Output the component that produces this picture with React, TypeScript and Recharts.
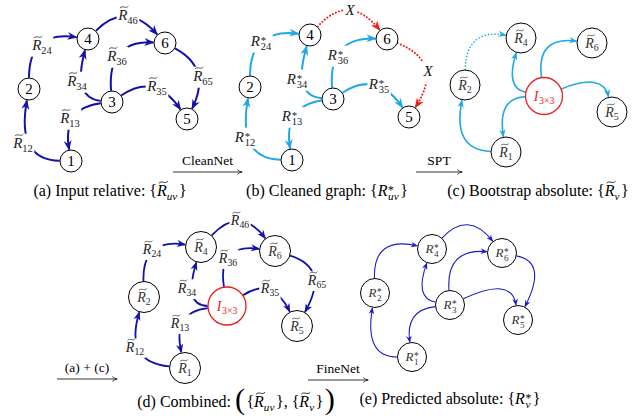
import React from 'react'
import { ComposedChart, Line, Scatter, XAxis, YAxis } from 'recharts'

const W = 644
const H = 419

const BLUE = '#1212aa'
const CYAN = '#1fa8e4'
const RED = '#ec1c1c'
const BLUE_E = '#1c1cc4'
const FONT = 'Liberation Serif'
const SERIF = `"${FONT}", "DejaVu Serif", serif`

// (a) input relative graph
const nodesA = [
  { id: '1', x: 71, y: 161 },
  { id: '2', x: 29, y: 89 },
  { id: '3', x: 112, y: 102 },
  { id: '4', x: 88, y: 39 },
  { id: '5', x: 187, y: 119 },
  { id: '6', x: 165, y: 43 },
]
const edgesA = [
  { from: '1', to: '2', cx: 16, cy: 160, sub: '12', lx: 23, ly: 143 },
  { from: '2', to: '4', cx: 29, cy: 30, sub: '24', lx: 42, ly: 45 },
  { from: '4', to: '6', cx: 126, cy: 0, sub: '46', lx: 128, ly: 15 },
  { from: '3', to: '6', cx: 107, cy: 40, sub: '36', lx: 117, ly: 56 },
  { from: '3', to: '4', cx: 72, cy: 98, sub: '34', lx: 77, ly: 81 },
  { from: '3', to: '1', cx: 62, cy: 108, sub: '13', lx: 70, ly: 118 },
  { from: '3', to: '5', cx: 155, cy: 72, sub: '35', lx: 157, ly: 86 },
  { from: '6', to: '5', cx: 212, cy: 68, sub: '65', lx: 203, ly: 76 },
]

// (b) cleaned graph
const nodesB = [
  { id: '1', x: 292, y: 160 },
  { id: '2', x: 250, y: 87 },
  { id: '3', x: 333, y: 99 },
  { id: '4', x: 310, y: 35 },
  { id: '5', x: 409, y: 117 },
  { id: '6', x: 387, y: 39 },
]
const edgesB = [
  { from: '1', to: '2', cx: 237, cy: 159, sub: '12', lx: 245, ly: 137 },
  { from: '2', to: '4', cx: 250, cy: 28, sub: '24', lx: 261, ly: 41 },
  { from: '3', to: '6', cx: 328, cy: 37, sub: '36', lx: 338, ly: 55 },
  { from: '3', to: '4', cx: 292, cy: 96, sub: '34', lx: 297, ly: 79 },
  { from: '3', to: '1', cx: 283, cy: 106, sub: '13', lx: 292, ly: 116 },
  { from: '3', to: '5', cx: 377, cy: 70, sub: '35', lx: 379, ly: 84 },
  { from: '4', to: '6', cx: 349, cy: -8, sub: 'X', lx: 350, ly: 10, kind: 'cut' },
  { from: '6', to: '5', cx: 445, cy: 62, sub: 'X', lx: 428, ly: 71, kind: 'cut' },
]

// (c) bootstrap absolute (spanning tree)
const nodesC = [
  { id: '4', x: 521, y: 38 },
  { id: '6', x: 592, y: 43 },
  { id: '2', x: 465, y: 85 },
  { id: 'I', x: 544, y: 96 },
  { id: '5', x: 612, y: 112 },
  { id: '1', x: 506, y: 152 },
]
const edgesC = [
  { from: '2', to: '4', cx: 466, cy: 28, kind: 'skip' },
  { from: 'I', to: '4', cx: 505, cy: 88 },
  { from: 'I', to: '6', cx: 536, cy: 36 },
  { from: 'I', to: '5', cx: 603, cy: 72 },
  { from: 'I', to: '1', cx: 497, cy: 98 },
  { from: '1', to: '2', cx: 452, cy: 150 },
]

// (d) combined
const nodesD = [
  { id: '4', x: 201, y: 247 },
  { id: '6', x: 275, y: 251 },
  { id: '2', x: 144, y: 297 },
  { id: 'I', x: 227, y: 306 },
  { id: '5', x: 297, y: 326 },
  { id: '1', x: 185, y: 368 },
]
const edgesD = [
  { from: '4', to: '6', cx: 240, cy: 205, sub: '46', lx: 240, ly: 220 },
  { from: '2', to: '4', cx: 142, cy: 238, sub: '24', lx: 152, ly: 249 },
  { from: 'I', to: '6', cx: 217, cy: 243, sub: '36', lx: 228, ly: 258 },
  { from: 'I', to: '4', cx: 183, cy: 306, sub: '34', lx: 187, ly: 288 },
  { from: 'I', to: '5', cx: 272, cy: 276, sub: '35', lx: 270, ly: 288 },
  { from: '6', to: '5', cx: 330, cy: 268, sub: '65', lx: 317, ly: 280 },
  { from: 'I', to: '1', cx: 172, cy: 312, sub: '13', lx: 180, ly: 323 },
  { from: '1', to: '2', cx: 124, cy: 362, sub: '12', lx: 135, ly: 347 },
]

// (e) predicted absolute
const nodesE = [
  { id: '4', x: 432, y: 249 },
  { id: '6', x: 502, y: 253 },
  { id: '2', x: 375, y: 293 },
  { id: '3', x: 450, y: 305 },
  { id: '5', x: 518, y: 320 },
  { id: '1', x: 412, y: 357 },
]
const edgesE = [
  { from: '2', to: '4', cx: 373, cy: 236 },
  { from: '4', to: '6', cx: 468, cy: 210 },
  { from: '3', to: '6', cx: 446, cy: 248 },
  { from: '3', to: '4', cx: 414, cy: 298 },
  { from: '3', to: '5', cx: 512, cy: 276 },
  { from: '6', to: '5', cx: 548, cy: 262 },
  { from: '3', to: '1', cx: 405, cy: 310 },
  { from: '1', to: '2', cx: 364, cy: 357 },
]

// arrows between panels
const stepArrows = [
  { label: 'CleanNet', x1: 173, x2: 242, y: 172 },
  { label: 'SPT', x1: 416, x2: 462, y: 172 },
  { label: '(a) + (c)', x1: 57, x2: 117, y: 379 },
  { label: 'FineNet', x1: 308, x2: 368, y: 380 },
]

type Piece = { s: string; it?: boolean; k?: number; dy?: number; tilde?: boolean; stack?: boolean; gap?: number }

const Rt = (sub: string, it = false): Piece[] => [
  { s: 'R', it: true, tilde: true },
  { s: sub, it, k: 0.7, dy: 0.26 },
]
const Rs = (sub: string, it = false): Piece[] => [
  { s: 'R', it: true },
  { s: '*', k: 0.72, dy: -0.12, gap: 0.04 },
  { s: sub, it, k: 0.7, dy: 0.28, stack: true },
]

const captions: { x: number; y: number; pieces: Piece[] }[] = [
  { x: 110, y: 196, pieces: [{ s: '(a) Input relative: {' }, ...Rt('uv', true), { s: '}', gap: 0.1 }] },
  { x: 327, y: 196, pieces: [{ s: '(b) Cleaned graph: {' }, ...Rs('uv', true), { s: '}', gap: 0.1 }] },
  { x: 538, y: 196, pieces: [{ s: '(c) Bootstrap absolute: {' }, ...Rt('v', true), { s: '}', gap: 0.1 }] },
  {
    x: 236,
    y: 407,
    pieces: [
      { s: '(d) Combined: ' },
      { s: '(', k: 1.9, dy: 0.15 },
      { s: '{', gap: 0.08 },
      ...Rt('uv', true),
      { s: '}, {', gap: 0.1 },
      ...Rt('v', true),
      { s: '}', gap: 0.1 },
      { s: ')', k: 1.9, dy: 0.15, gap: 0.08 },
    ],
  },
  { x: 450, y: 404, pieces: [{ s: '(e) Predicted absolute: {' }, ...Rs('v', true), { s: '}', gap: 0.1 }] },
]

let mctx: CanvasRenderingContext2D | null = null
function tw(s: string, fs: number, it?: boolean) {
  if (!mctx && typeof document !== 'undefined') mctx = document.createElement('canvas').getContext('2d')
  if (!mctx) return s.length * fs * 0.5
  mctx.font = `${it ? 'italic ' : ''}${fs}px ${SERIF}`
  return mctx.measureText(s).width
}

function layout(pieces: Piece[], size: number) {
  let cur = 0
  let prevX = 0
  const items = pieces.map((p) => {
    const fs = size * (p.k ?? 1)
    const w = tw(p.s, fs, p.it)
    let px: number
    if (p.stack) {
      px = prevX
      cur = Math.max(cur, px + w)
    } else {
      px = cur + (p.gap ?? 0) * size
      cur = px + w
    }
    prevX = px
    return { ...p, px, fs, w }
  })
  return { items, width: cur }
}

// one <text> with positioned tspans, plus a drawn wide tilde where needed
function MathText({ x, y, pieces, size, color = '#000', anchor = 'middle', bg = false }: any) {
  const { items, width } = layout(pieces, size)
  const x0 = anchor === 'middle' ? x - width / 2 : anchor === 'end' ? x - width : x
  return (
    <g>
      {bg && <rect x={x0 - 1.5} y={y - size * 0.95} width={width + 3} height={size * 1.4} fill="#fff" />}
      <text fontFamily={SERIF} fill={color} style={{ whiteSpace: 'pre', fontFamily: SERIF }}>
        {items.map((p: any, i: number) => (
          <tspan key={i} x={x0 + p.px} y={y + (p.dy ?? 0) * size} fontSize={p.fs} fontStyle={p.it ? 'italic' : 'normal'}>
            {p.s}
          </tspan>
        ))}
      </text>
      {items
        .filter((p: any) => p.tilde)
        .map((p: any, i: number) => {
          const tx = x0 + p.px + 0.12 * p.fs
          const ty = y - 0.86 * p.fs
          const w = p.w * 0.92
          const h = 0.07 * p.fs
          return (
            <path
              key={`t${i}`}
              d={`M${tx},${ty + h} C${tx + w * 0.3},${ty - h * 2.2} ${tx + w * 0.7},${ty + h * 2.2} ${tx + w},${ty - h}`}
              stroke={color}
              strokeWidth={Math.max(0.6, p.fs * 0.05)}
              fill="none"
            />
          )
        })}
    </g>
  )
}

// quadratic bezier through start, control, end
const quad = (ctx: any) => {
  let pts: number[][] = []
  return {
    areaStart() {},
    areaEnd() {},
    lineStart() {
      pts = []
    },
    point(x: number, y: number) {
      pts.push([x, y])
    },
    lineEnd() {
      if (!pts.length) return
      ctx.moveTo(pts[0][0], pts[0][1])
      if (pts.length === 3) ctx.quadraticCurveTo(pts[1][0], pts[1][1], pts[2][0], pts[2][1])
      else pts.slice(1).forEach((p) => ctx.lineTo(p[0], p[1]))
    },
  }
}

type Cfg = {
  key: string
  nodes: { id: string; x: number; y: number }[]
  edges: any[]
  r: number
  rI: number
  node: 'num' | 'tilde' | 'star'
  label: 'tilde' | 'star' | null
  color: string
  width: number
  head: string
  nodeSize: number
  labelSize: number
}

const panels: Cfg[] = [
  { key: 'a', nodes: nodesA, edges: edgesA, r: 11, rI: 18, node: 'num', label: 'tilde', color: BLUE, width: 2, head: 'hA', nodeSize: 15, labelSize: 15 },
  { key: 'b', nodes: nodesB, edges: edgesB, r: 11, rI: 18, node: 'num', label: 'star', color: CYAN, width: 2, head: 'hB', nodeSize: 15, labelSize: 15 },
  { key: 'c', nodes: nodesC, edges: edgesC, r: 15, rI: 18.5, node: 'tilde', label: null, color: CYAN, width: 1.6, head: 'hC', nodeSize: 14, labelSize: 14 },
  { key: 'd', nodes: nodesD, edges: edgesD, r: 15.5, rI: 19, node: 'tilde', label: 'tilde', color: BLUE, width: 1.8, head: 'hD', nodeSize: 14, labelSize: 14 },
  { key: 'e', nodes: nodesE, edges: edgesE, r: 14.5, rI: 18, node: 'star', label: null, color: BLUE_E, width: 1.1, head: 'hE', nodeSize: 13, labelSize: 13 },
]

function edgePoints(e: any, cfg: Cfg) {
  const f = cfg.nodes.find((n) => n.id === e.from)!
  const t = cfg.nodes.find((n) => n.id === e.to)!
  const rad = (n: { id: string }) => (n.id === 'I' ? cfg.rI : cfg.r)
  const unit = (n: { x: number; y: number }) => {
    const dx = e.cx - n.x
    const dy = e.cy - n.y
    const d = Math.hypot(dx, dy)
    return [dx / d, dy / d]
  }
  const [ax, ay] = unit(f)
  const [bx, by] = unit(t)
  const rf = rad(f) + 0.3
  const rt = rad(t) + 0.6
  return [
    { x: f.x + ax * rf, y: f.y + ay * rf },
    { x: e.cx, y: e.cy },
    { x: t.x + bx * rt, y: t.y + by * rt },
  ]
}

function NodeShape({ cx, cy, payload, cfg }: any) {
  if (cx == null || cy == null) return null
  const isI = payload.id === 'I'
  const r = isI ? cfg.rI : cfg.r
  let inner
  if (isI) {
    inner = <MathText x={cx} y={cy + 4.5} size={14} color={RED} pieces={[{ s: 'I', it: true }, { s: '3×3', k: 0.7, dy: 0.26, gap: 0.05 }]} />
  } else if (cfg.node === 'num') {
    inner = <MathText x={cx} y={cy + 5} size={cfg.nodeSize} pieces={[{ s: payload.id }]} />
  } else if (cfg.node === 'tilde') {
    inner = <MathText x={cx} y={cy + 4.5} size={cfg.nodeSize} color="#333" pieces={Rt(payload.id)} />
  } else {
    inner = <MathText x={cx} y={cy + 4} size={cfg.nodeSize} color="#333" pieces={Rs(payload.id)} />
  }
  return (
    <g>
      <circle cx={cx} cy={cy} r={r} fill="#fff" stroke={isI ? RED : '#000'} strokeWidth={isI ? 1.3 : 1} />
      {inner}
    </g>
  )
}

function EdgeLabel({ cx, cy, payload, cfg }: any) {
  if (cx == null || cy == null) return null
  const s = cfg.labelSize
  if (payload.sub === 'X')
    return <MathText x={cx} y={cy + s * 0.33} size={s} color="#111" bg pieces={[{ s: 'X', it: true }]} />
  const pieces = cfg.label === 'tilde' ? Rt(payload.sub) : Rs(payload.sub)
  return <MathText x={cx} y={cy + s * 0.33} size={s} color="#222" bg pieces={pieces} />
}

function TextShape({ cx, cy, payload }: any) {
  if (cx == null || cy == null) return null
  return <MathText x={cx} y={cy} size={payload.size} pieces={payload.pieces} />
}

const heads = [
  { id: 'hA', color: BLUE, len: 10 },
  { id: 'hB', color: CYAN, len: 10 },
  { id: 'hR', color: RED, len: 10 },
  { id: 'hC', color: CYAN, len: 8 },
  { id: 'hD', color: BLUE, len: 9 },
  { id: 'hE', color: BLUE_E, len: 7 },
]

function Markers() {
  return (
    <svg width={0} height={0} style={{ position: 'absolute' }}>
      <defs>
        {heads.map((h) => (
          <marker
            key={h.id}
            id={h.id}
            viewBox="0 0 10 10"
            refX={9}
            refY={5}
            markerWidth={h.len}
            markerHeight={h.len}
            markerUnits="userSpaceOnUse"
            orient="auto"
          >
            <path d="M0,1 L10,5 L0,9 L3,5 Z" fill={h.color} />
          </marker>
        ))}
        <marker id="hK" viewBox="0 0 10 10" refX={9} refY={5} markerWidth={6} markerHeight={6} markerUnits="userSpaceOnUse" orient="auto">
          <path d="M1,1 Q5,4.2 9.5,5 Q5,5.8 1,9" fill="none" stroke="#000" strokeWidth={1.1} />
        </marker>
      </defs>
    </svg>
  )
}

export default function App() {
  const textData = [
    ...captions.map((c) => ({ x: c.x, y: c.y, size: 16, pieces: c.pieces })),
    ...stepArrows.map((a) => ({ x: (a.x1 + a.x2) / 2, y: a.y - 7, size: 13.5, pieces: [{ s: a.label }] })),
  ]
  return (
    <div style={{ width: W, height: H, background: '#fff' }}>
      <style>{'body{margin:0;background:#fff}'}</style>
      <Markers />
      <ComposedChart width={W} height={H} margin={{ top: 0, right: 0, bottom: 0, left: 0 }}>
        <XAxis type="number" dataKey="x" domain={[0, W]} hide allowDataOverflow />
        <YAxis type="number" dataKey="y" domain={[0, H]} reversed hide allowDataOverflow />
        {panels.flatMap((p) =>
          p.edges.map((e, i) => {
            const cut = e.kind === 'cut'
            const dotted = cut || e.kind === 'skip'
            return (
              <Line
                key={`${p.key}-e${i}`}
                data={edgePoints(e, p)}
                dataKey="y"
                type={quad as any}
                stroke={cut ? RED : p.color}
                strokeWidth={p.width}
                strokeDasharray={dotted ? '0.1 3.2' : undefined}
                strokeLinecap={dotted ? 'round' : 'butt'}
                markerEnd={`url(#${cut ? 'hR' : p.head})`}
                dot={false}
                activeDot={false}
                legendType="none"
                isAnimationActive={false}
              />
            )
          }),
        )}
        {stepArrows.map((a, i) => (
          <Line
            key={`arr${i}`}
            data={[
              { x: a.x1, y: a.y },
              { x: a.x2, y: a.y },
            ]}
            dataKey="y"
            type="linear"
            stroke="#000"
            strokeWidth={0.8}
            markerEnd="url(#hK)"
            dot={false}
            activeDot={false}
            legendType="none"
            isAnimationActive={false}
          />
        ))}
        {panels
          .filter((p) => p.label)
          .map((p) => (
            <Scatter
              key={`${p.key}-labels`}
              data={p.edges.map((e) => ({ x: e.lx, y: e.ly, sub: e.sub }))}
              shape={(props: any) => <EdgeLabel {...props} cfg={p} />}
              legendType="none"
              isAnimationActive={false}
            />
          ))}
        {panels.map((p) => (
          <Scatter
            key={`${p.key}-nodes`}
            data={p.nodes}
            shape={(props: any) => <NodeShape {...props} cfg={p} />}
            legendType="none"
            isAnimationActive={false}
          />
        ))}
        <Scatter data={textData} shape={(props: any) => <TextShape {...props} />} legendType="none" isAnimationActive={false} />
      </ComposedChart>
    </div>
  )
}
